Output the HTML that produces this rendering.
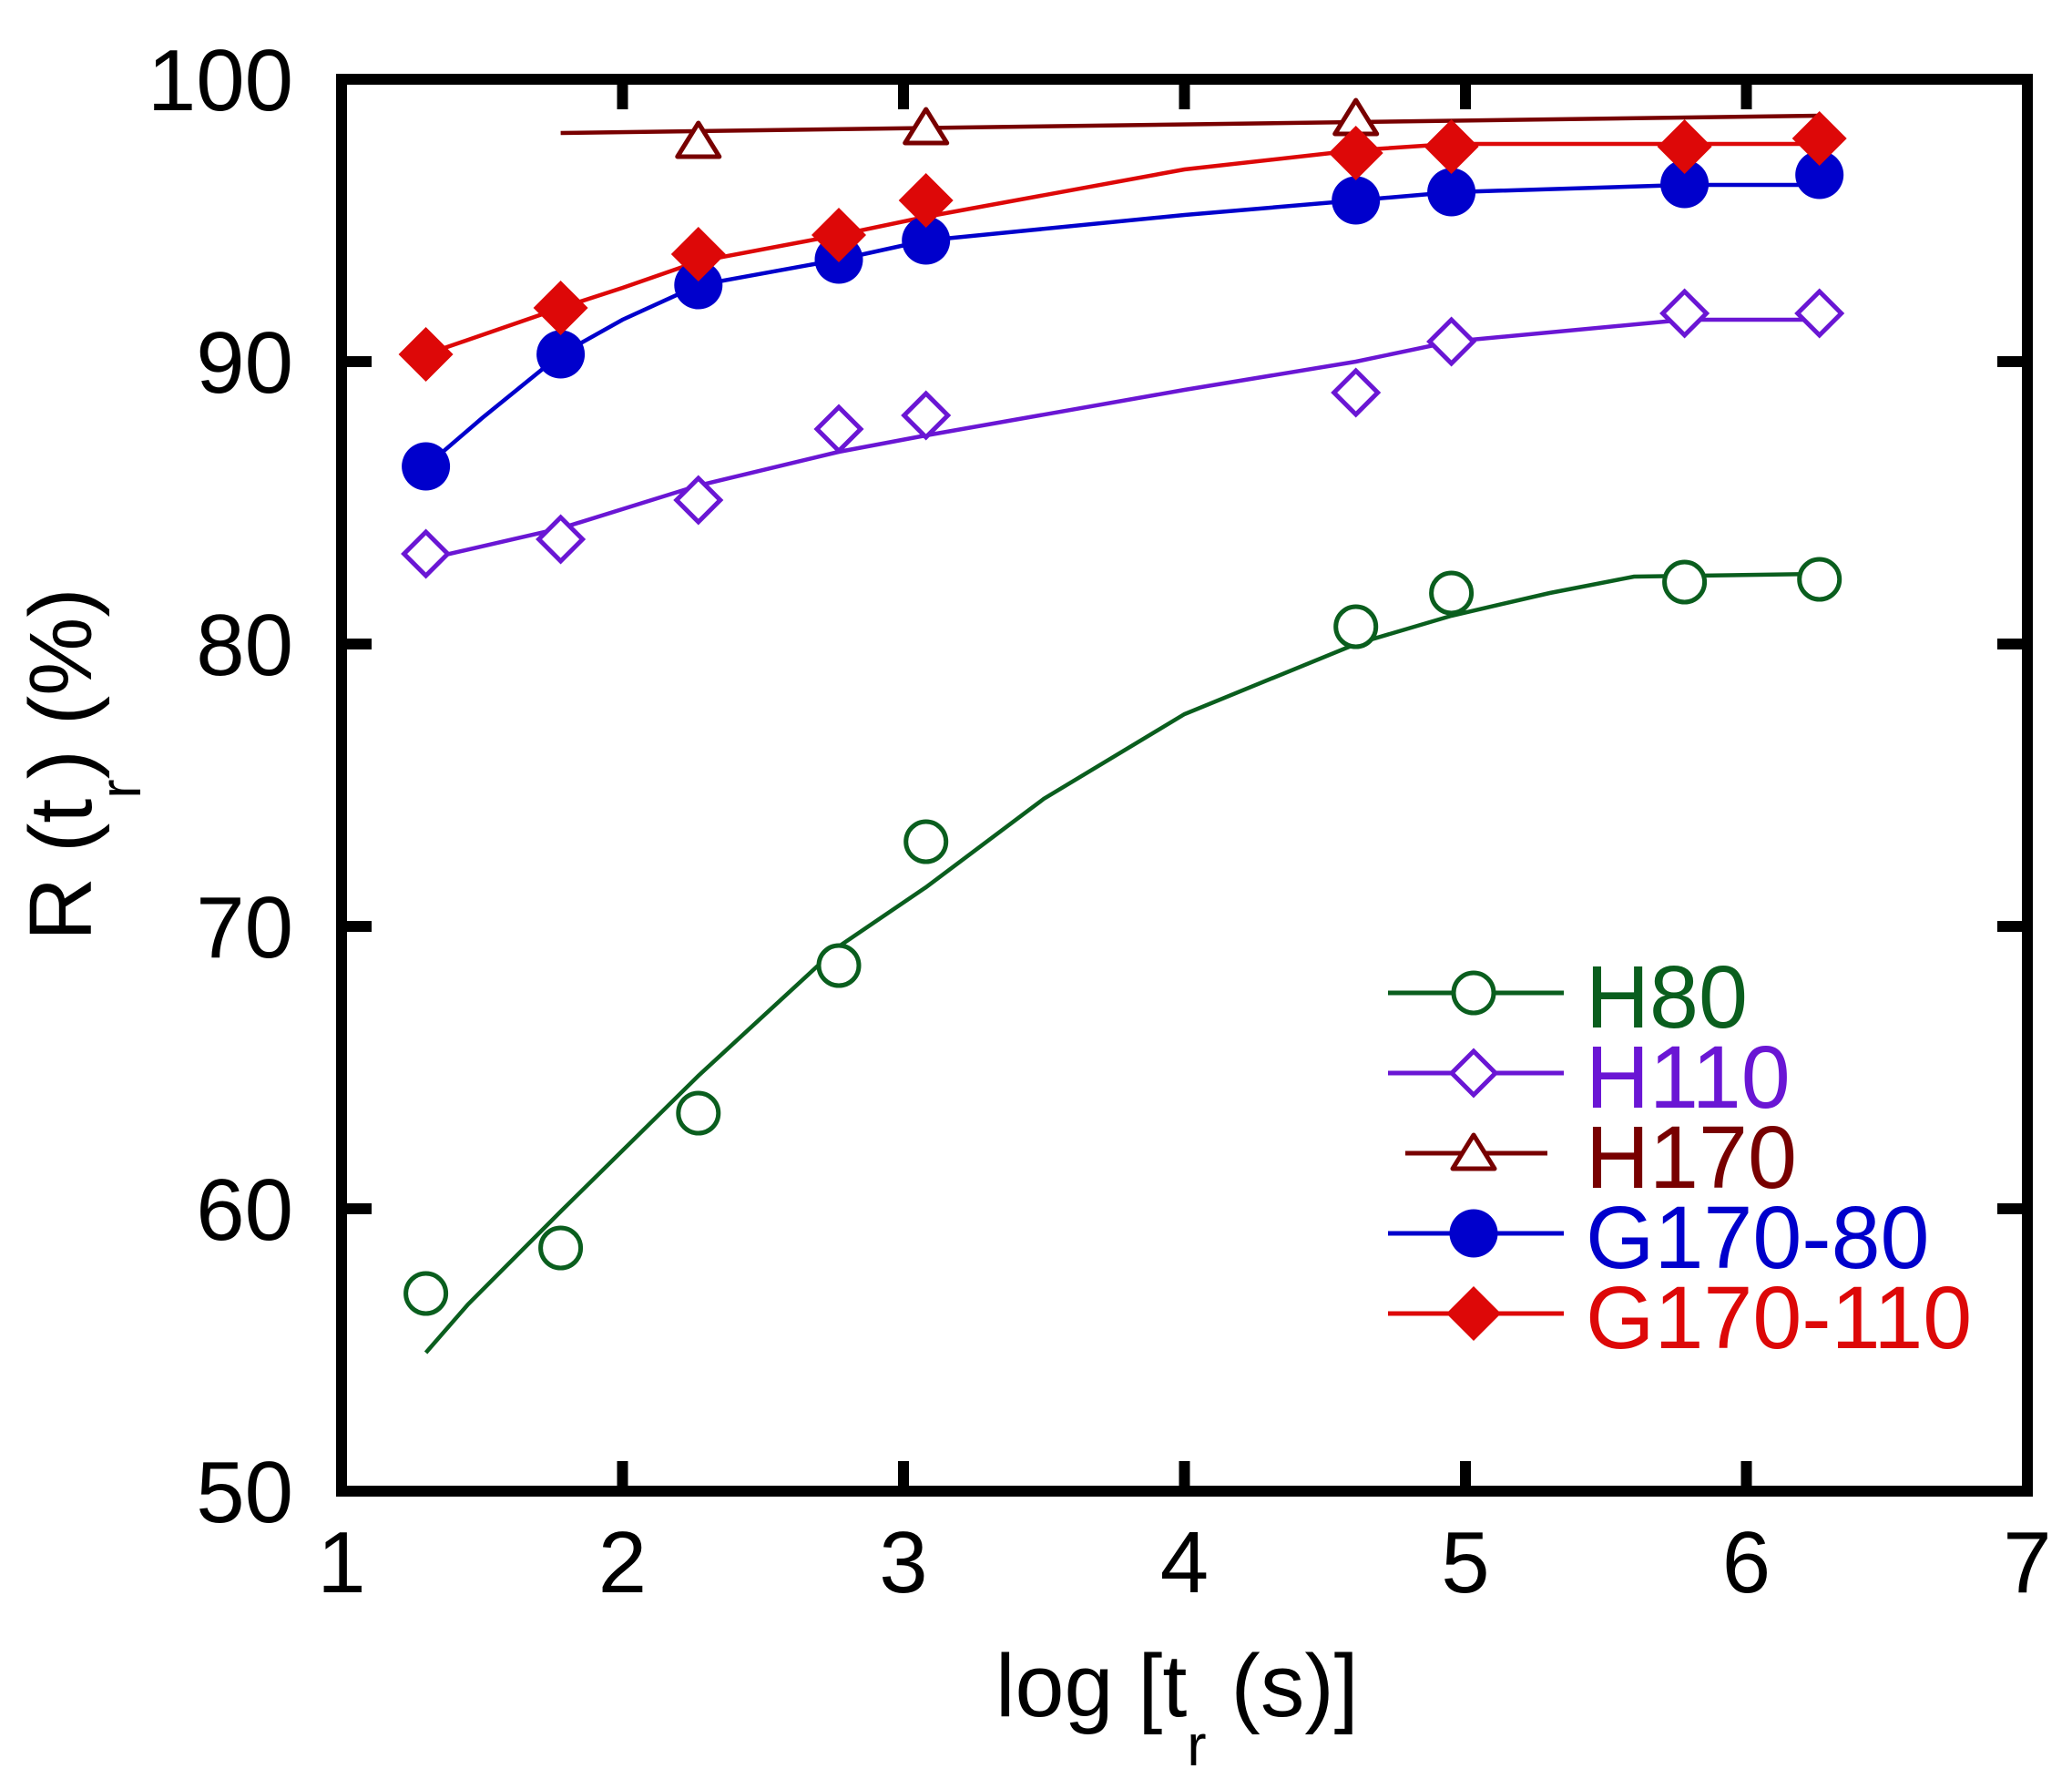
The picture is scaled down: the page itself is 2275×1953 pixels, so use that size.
<!DOCTYPE html>
<html><head><meta charset="utf-8"><style>
html,body{margin:0;padding:0;background:#fff;}
svg{display:block;}
text{font-family:"Liberation Sans",Arial,sans-serif;}
</style></head><body>
<svg width="2275" height="1953" viewBox="0 0 2275 1953" xmlns="http://www.w3.org/2000/svg">
<defs>
<g id="oc"><circle r="22" fill="#fff" stroke="#0a5e1e" stroke-width="5"/></g>
<g id="od"><polygon points="0,-24 24,0 0,24 -24,0" fill="#fff" stroke="#6a16d4" stroke-width="5"/></g>
<g id="ot"><polygon points="0,-22 23,15 -23,15" fill="#fff" stroke="#780000" stroke-width="5" stroke-linejoin="round"/></g>
<g id="fc"><circle r="26.5" fill="#0000cc"/></g>
<g id="fd"><polygon points="0,-30 30,0 0,30 -30,0" fill="#dd0808"/></g>
</defs>

<!-- series lines -->
<polyline fill="none" stroke="#0a5e1e" stroke-width="4.5" points="467.6,1485 513.8,1432 615.6,1330 766.8,1181 921,1039 1016.7,974 1146,877 1300.5,784 1488.7,707 1593.6,676 1701.6,651 1794.1,633 1997.7,630"/>
<polyline fill="none" stroke="#6a16d4" stroke-width="4.5" points="467.6,614 615.6,580 766.8,533 921,496 1016.7,478 1300.5,428 1488.7,397 1593.6,375 1849.6,351 1997.7,351"/>
<polyline fill="none" stroke="#780000" stroke-width="4.5" points="615.6,146 1997.7,127"/>
<polyline fill="none" stroke="#0000cc" stroke-width="4.5" points="467.6,512 529.3,459 615.6,389 683.5,351 766.8,313 921,285 1016.7,264 1300.5,236 1488.7,220 1593.6,211 1849.6,203 1997.7,203"/>
<polyline fill="none" stroke="#dd0808" stroke-width="4.5" points="467.6,389 615.6,338 683.5,316 766.8,287 921,258 1016.7,238 1300.5,186 1488.7,165 1593.6,158 1997.7,158"/>

<!-- markers -->
<use href="#oc" x="467.6" y="1420"/><use href="#oc" x="615.6" y="1370"/><use href="#oc" x="766.8" y="1222"/><use href="#oc" x="921" y="1060"/><use href="#oc" x="1016.7" y="924"/><use href="#oc" x="1488.7" y="688"/><use href="#oc" x="1593.6" y="651"/><use href="#oc" x="1849.6" y="639"/><use href="#oc" x="1997.7" y="636"/>
<use href="#od" x="467.6" y="608"/><use href="#od" x="615.6" y="592"/><use href="#od" x="766.8" y="549"/><use href="#od" x="921" y="471"/><use href="#od" x="1016.7" y="456"/><use href="#od" x="1488.7" y="431"/><use href="#od" x="1593.6" y="375"/><use href="#od" x="1849.6" y="344"/><use href="#od" x="1997.7" y="344"/>
<use href="#ot" x="766.8" y="157"/><use href="#ot" x="1016.7" y="142"/><use href="#ot" x="1488.7" y="132"/>
<use href="#fc" x="467.6" y="512"/><use href="#fc" x="615.6" y="389"/><use href="#fc" x="766.8" y="313"/><use href="#fc" x="921" y="285"/><use href="#fc" x="1016.7" y="264"/><use href="#fc" x="1488.7" y="220"/><use href="#fc" x="1593.6" y="211"/><use href="#fc" x="1849.6" y="202"/><use href="#fc" x="1997.7" y="192"/>
<use href="#fd" x="467.6" y="389"/><use href="#fd" x="615.6" y="338"/><use href="#fd" x="766.8" y="279"/><use href="#fd" x="921" y="258"/><use href="#fd" x="1016.7" y="220"/><use href="#fd" x="1488.7" y="168"/><use href="#fd" x="1593.6" y="161"/><use href="#fd" x="1849.6" y="161"/><use href="#fd" x="1997.7" y="152"/>

<!-- frame -->
<rect x="375" y="87" width="1851" height="1550" fill="none" stroke="#000" stroke-width="12"/>
<g stroke="#000" stroke-width="12">
<line x1="683.5" y1="1637" x2="683.5" y2="1604"/><line x1="992" y1="1637" x2="992" y2="1604"/><line x1="1300.5" y1="1637" x2="1300.5" y2="1604"/><line x1="1609" y1="1637" x2="1609" y2="1604"/><line x1="1917.5" y1="1637" x2="1917.5" y2="1604"/>
<line x1="683.5" y1="87" x2="683.5" y2="120"/><line x1="992" y1="87" x2="992" y2="120"/><line x1="1300.5" y1="87" x2="1300.5" y2="120"/><line x1="1609" y1="87" x2="1609" y2="120"/><line x1="1917.5" y1="87" x2="1917.5" y2="120"/>
<line x1="375" y1="397" x2="408" y2="397"/><line x1="375" y1="707" x2="408" y2="707"/><line x1="375" y1="1017" x2="408" y2="1017"/><line x1="375" y1="1327" x2="408" y2="1327"/>
<line x1="2226" y1="397" x2="2193" y2="397"/><line x1="2226" y1="707" x2="2193" y2="707"/><line x1="2226" y1="1017" x2="2193" y2="1017"/><line x1="2226" y1="1327" x2="2193" y2="1327"/>
</g>

<!-- tick labels -->
<g font-size="96" fill="#000" text-anchor="end">
<text x="322" y="121">100</text><text x="322" y="431">90</text><text x="322" y="741">80</text><text x="322" y="1051">70</text><text x="322" y="1361">60</text><text x="322" y="1671">50</text>
</g>
<g font-size="96" fill="#000" text-anchor="middle">
<text x="375" y="1748">1</text><text x="683.5" y="1748">2</text><text x="992" y="1748">3</text><text x="1300.5" y="1748">4</text><text x="1609" y="1748">5</text><text x="1917.5" y="1748">6</text><text x="2226" y="1748">7</text>
</g>

<!-- axis titles -->
<text x="1093" y="1884" font-size="97" fill="#000">log [t<tspan font-size="64" dy="54">r</tspan><tspan dy="-54"> (s)]</tspan></text>
<text transform="translate(100,1033) rotate(-90)" font-size="97" fill="#000">R (t<tspan font-size="64" dy="54">r</tspan><tspan dy="-54">) (%)</tspan></text>

<!-- legend -->
<g stroke-width="5">
<line x1="1524" y1="1090" x2="1717" y2="1090" stroke="#0a5e1e"/>
<line x1="1524" y1="1178" x2="1717" y2="1178" stroke="#6a16d4"/>
<line x1="1543" y1="1266" x2="1699" y2="1266" stroke="#780000"/>
<line x1="1524" y1="1354" x2="1717" y2="1354" stroke="#0000cc"/>
<line x1="1524" y1="1442" x2="1717" y2="1442" stroke="#dd0808"/>
</g>
<use href="#oc" x="1618" y="1090"/><use href="#od" x="1618" y="1178"/><use href="#ot" x="1618" y="1268"/><use href="#fc" x="1618" y="1354"/><use href="#fd" x="1618" y="1442"/>
<g font-size="97">
<text x="1741" y="1128" fill="#0a5e1e">H80</text>
<text x="1741" y="1216" fill="#6a16d4">H110</text>
<text x="1741" y="1304" fill="#780000">H170</text>
<text x="1741" y="1392" fill="#0000cc">G170-80</text>
<text x="1741" y="1480" fill="#dd0808">G170-110</text>
</g>
</svg>
</body></html>
